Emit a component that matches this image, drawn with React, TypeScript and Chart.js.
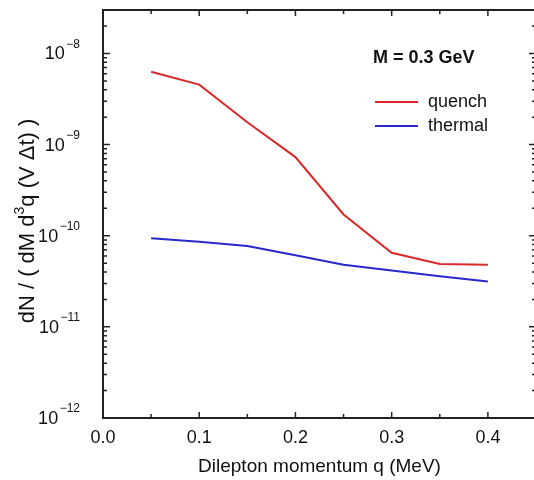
import React, { useEffect, useRef } from 'react';
import { Chart, registerables } from 'chart.js';

Chart.register(...registerables);

const qValues = [0.05, 0.1, 0.15, 0.2, 0.25, 0.3, 0.35, 0.4];
const quench = [6.3e-9, 4.55e-9, 1.76e-9, 7.3e-10, 1.71e-10, 6.5e-11, 4.9e-11, 4.8e-11];
const thermal = [9.4e-11, 8.6e-11, 7.7e-11, 6.1e-11, 4.8e-11, 4.15e-11, 3.6e-11, 3.15e-11];
const seriesLabels = ['quench', 'thermal'];
const seriesColors = ['rgb(218,40,40)', 'rgb(40,40,205)'];
const xMajorTicks = [0, 0.1, 0.2, 0.3, 0.4];
const xTickLabels = ['0.0', '0.1', '0.2', '0.3', '0.4'];
const xMinorTicks = [0.05, 0.15, 0.25, 0.35];
const yDecades = [1e-12, 1e-11, 1e-10, 1e-9, 1e-8];
const yExponents = ['\u221212', '\u221211', '\u221210', '\u22129', '\u22128'];
const yMinorMultipliers = [2, 3, 4, 5, 6, 7, 8, 9];
const xTitle = 'Dilepton momentum q (MeV)';
const yTitleParts = ['dN / ( dM d', '3', 'q (V \u0394t) )'];
const annotation = 'M = 0.3 GeV';

const X_MIN = 0;
const X_MAX = 0.45;
const Y_MIN = 1e-12;
const Y_MAX = 3e-8;

const FONT = '"Liberation Sans", Arial, Helvetica, sans-serif';

const decorPlugin = {
  id: 'decor',
  afterDraw(chart: any) {
    const { ctx, chartArea } = chart;
    const { left, right, top, bottom } = chartArea;
    const xs = chart.scales.x;
    const ys = chart.scales.y;
    ctx.save();

    // frame
    ctx.strokeStyle = '#222';
    ctx.lineWidth = 2;
    ctx.beginPath();
    ctx.rect(left, top, right - left, bottom - top);
    ctx.stroke();

    // ticks
    ctx.lineWidth = 1.5;
    const hTick = (v: number, len: number) => {
      const px = xs.getPixelForValue(v);
      ctx.beginPath();
      ctx.moveTo(px, bottom);
      ctx.lineTo(px, bottom - len);
      ctx.moveTo(px, top);
      ctx.lineTo(px, top + len);
      ctx.stroke();
    };
    const vTick = (v: number, len: number) => {
      const py = ys.getPixelForValue(v);
      ctx.beginPath();
      ctx.moveTo(left, py);
      ctx.lineTo(left + len, py);
      ctx.moveTo(right, py);
      ctx.lineTo(right - len, py);
      ctx.stroke();
    };
    xMajorTicks.forEach((v) => hTick(v, 6));
    xMinorTicks.forEach((v) => hTick(v, 4));
    yDecades.forEach((d) => {
      vTick(d, 7);
      yMinorMultipliers.forEach((m) => {
        const v = d * m;
        if (v <= Y_MAX) vTick(v, 4);
      });
    });

    // x tick labels
    ctx.fillStyle = '#111';
    ctx.font = `18px ${FONT}`;
    ctx.textAlign = 'center';
    ctx.textBaseline = 'middle';
    xMajorTicks.forEach((v, i) => {
      ctx.fillText(xTickLabels[i], xs.getPixelForValue(v), bottom + 20);
    });

    // y tick labels 10^n
    yDecades.forEach((d, i) => {
      const py = ys.getPixelForValue(d);
      ctx.font = `12px ${FONT}`;
      const supW = ctx.measureText(yExponents[i]).width;
      const rightEdge = 80;
      ctx.textAlign = 'right';
      ctx.textBaseline = 'middle';
      ctx.fillText(yExponents[i], rightEdge, py - 9);
      ctx.font = `18px ${FONT}`;
      ctx.fillText('10', rightEdge - supW - 1.5, py + 1);
    });

    // x title
    ctx.font = `19px ${FONT}`;
    ctx.textAlign = 'center';
    ctx.textBaseline = 'middle';
    ctx.fillText(xTitle, (left + right) / 2, 467);

    // y title with superscript
    ctx.save();
    ctx.translate(34, 221);
    ctx.rotate(-Math.PI / 2);
    ctx.textBaseline = 'alphabetic';
    ctx.textAlign = 'left';
    const bigFont = `22px ${FONT}`;
    const supFont = `14px ${FONT}`;
    ctx.font = bigFont;
    const w0 = ctx.measureText(yTitleParts[0]).width;
    const w2 = ctx.measureText(yTitleParts[2]).width;
    ctx.font = supFont;
    const w1 = ctx.measureText(yTitleParts[1]).width;
    const total = w0 + w1 + w2;
    let cx = -total / 2;
    ctx.font = bigFont;
    ctx.fillText(yTitleParts[0], cx, 0);
    cx += w0;
    ctx.font = supFont;
    ctx.fillText(yTitleParts[1], cx, -10);
    cx += w1;
    ctx.font = bigFont;
    ctx.fillText(yTitleParts[2], cx, 0);
    ctx.restore();

    // annotation
    ctx.font = `bold 18px ${FONT}`;
    ctx.textAlign = 'left';
    ctx.textBaseline = 'middle';
    ctx.fillText(annotation, 373, 58);

    // legend
    chart.data.datasets.forEach((ds: any, i: number) => {
      const y = 102 + i * 24;
      ctx.strokeStyle = ds.borderColor;
      ctx.lineWidth = 2;
      ctx.beginPath();
      ctx.moveTo(375, y);
      ctx.lineTo(418, y);
      ctx.stroke();
      ctx.fillStyle = '#111';
      ctx.font = `18px ${FONT}`;
      ctx.textAlign = 'left';
      ctx.fillText(ds.label, 428, y);
    });

    ctx.restore();
  },
};

export default function App() {
  const ref = useRef<HTMLCanvasElement | null>(null);
  useEffect(() => {
    if (!ref.current) return;
    const chart = new Chart(ref.current, {
      type: 'line',
      data: {
        datasets: [
          {
            label: seriesLabels[0],
            data: qValues.map((q, i) => ({ x: q, y: quench[i] })),
            borderColor: seriesColors[0],
            borderWidth: 2,
            pointRadius: 0,
            fill: false,
            tension: 0,
          },
          {
            label: seriesLabels[1],
            data: qValues.map((q, i) => ({ x: q, y: thermal[i] })),
            borderColor: seriesColors[1],
            borderWidth: 2,
            pointRadius: 0,
            fill: false,
            tension: 0,
          },
        ],
      },
      options: {
        animation: false,
        responsive: false,
        layout: { padding: { left: 103, right: 9, top: 10, bottom: 62 } },
        plugins: { legend: { display: false }, tooltip: { enabled: false } },
        scales: {
          x: { type: 'linear', min: X_MIN, max: X_MAX, display: false },
          y: { type: 'logarithmic', min: Y_MIN, max: Y_MAX, display: false },
        },
      },
      plugins: [decorPlugin],
    });
    return () => chart.destroy();
  }, []);
  return (
    <div style={{ position: 'absolute', left: 0, top: 0, width: 534, height: 480, overflow: 'hidden', background: '#fff' }}>
      <canvas ref={ref} width={545} height={480} style={{ width: 545, height: 480, display: 'block' }} />
    </div>
  );
}
